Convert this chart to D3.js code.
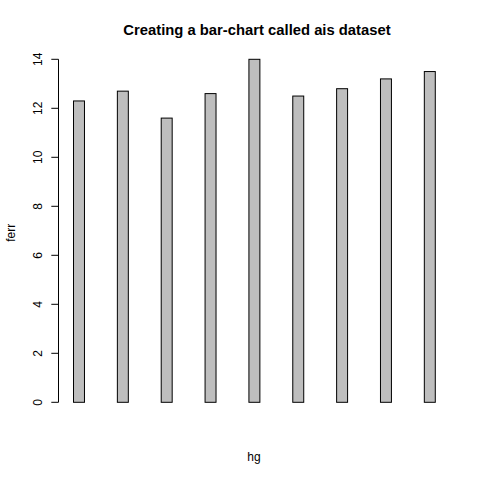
<!DOCTYPE html>
<html>
<head>
<meta charset="utf-8">
<script src="https://cdn.jsdelivr.net/npm/d3@7"></script>
<style>
  html, body { margin: 0; padding: 0; background: #fff; }
  svg text { font-family: "Liberation Sans", Arial, Helvetica, sans-serif; fill: #000; }
</style>
</head>
<body>
<div id="chart"></div>
<script>
// bar index and ferr values
const bars = ["1", "2", "3", "4", "5", "6", "7", "8", "9"];
const ferr = [12.3, 12.7, 11.6, 12.6, 14.0, 12.5, 12.8, 13.2, 13.5];
const yTicks = [0, 2, 4, 6, 8, 10, 12, 14];

const w = 480;
const h = 480;

// plot region, same as R's default margins on a 480px device
const plotLeft = 59.04, plotRight = 449.76;
const plotTop = 59.04, plotBottom = 406.56;

const svg = d3.select("#chart")
  .append("svg")
  .attr("width", w)
  .attr("height", h);

const x = d3.scaleBand()
  .domain(bars)
  .range([plotLeft, plotRight])
  .paddingInner(0.75)
  .paddingOuter(0.33);

const y = d3.scaleLinear()
  .domain([0, 14])
  .range([402.3, 59.3]);

svg.selectAll(".bar")
  .data(ferr)
  .enter().append("rect")
  .attr("class", "bar")
  .attr("x", (d, i) => x(bars[i]))
  .attr("y", d => y(d))
  .attr("width", x.bandwidth())
  .attr("height", d => y(0) - y(d))
  .attr("fill", "#bebebe")
  .attr("stroke", "#000")
  .attr("stroke-width", 1);

// y axis, R style: line from first to last tick, labels turned
const axisX = 58.5;
const axis = svg.append("g");
axis.append("line")
  .attr("x1", axisX).attr("x2", axisX)
  .attr("y1", y(yTicks[0])).attr("y2", y(yTicks[yTicks.length - 1]))
  .attr("stroke", "#000");

axis.selectAll(".tick")
  .data(yTicks)
  .enter().append("line")
  .attr("x1", axisX - 7.2).attr("x2", axisX)
  .attr("y1", d => y(d)).attr("y2", d => y(d))
  .attr("stroke", "#000");

axis.selectAll(".tick-label")
  .data(yTicks)
  .enter().append("text")
  .attr("transform", d => `translate(42,${y(d)}) rotate(-90)`)
  .attr("text-anchor", "middle")
  .style("font-size", "12px")
  .text(d => d);

svg.append("text")
  .attr("x", 257)
  .attr("y", 35)
  .attr("text-anchor", "middle")
  .style("font-size", "14.8px")
  .style("font-weight", "bold")
  .text("Creating a bar-chart called ais dataset");

svg.append("text")
  .attr("x", 254)
  .attr("y", 461)
  .attr("text-anchor", "middle")
  .style("font-size", "12px")
  .text("hg");

svg.append("text")
  .attr("transform", `translate(14.5,${(plotTop + plotBottom) / 2}) rotate(-90)`)
  .attr("text-anchor", "middle")
  .style("font-size", "12px")
  .text("ferr");
</script>
</body>
</html>
